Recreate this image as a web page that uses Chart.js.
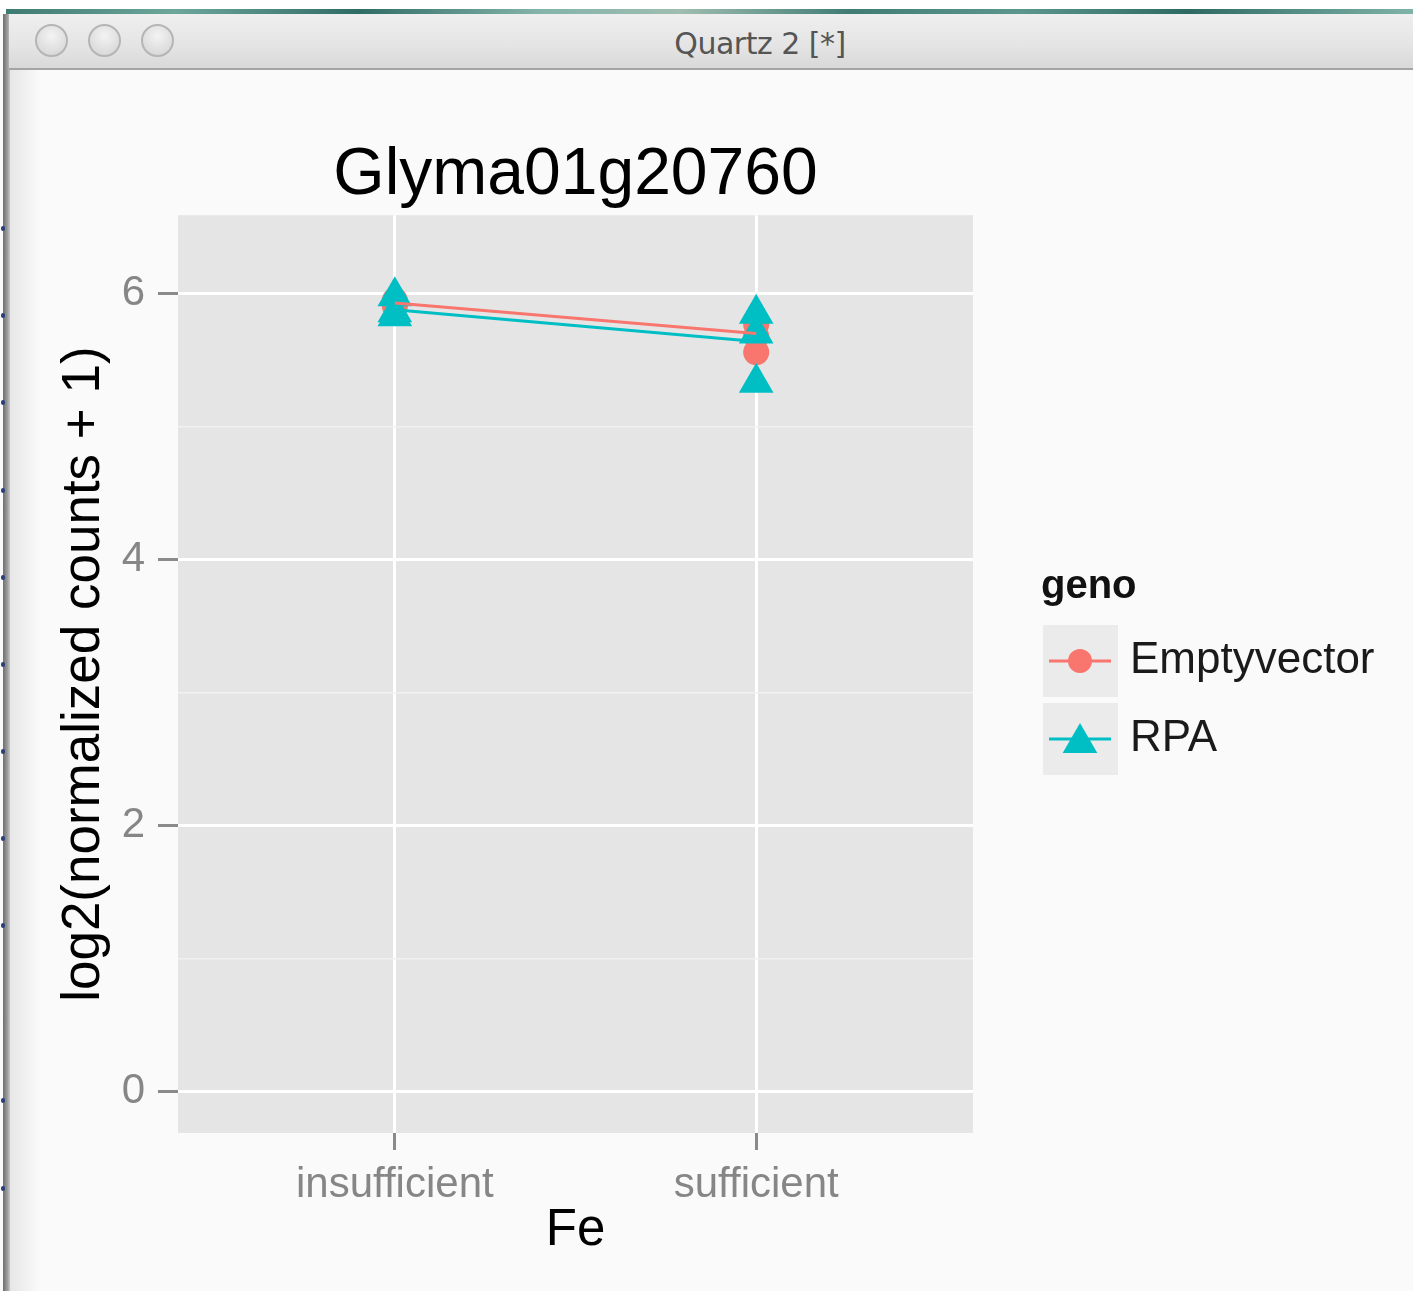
<!DOCTYPE html>
<html>
<head>
<meta charset="utf-8">
<title>Glyma01g20760</title>
<script src="https://cdn.jsdelivr.net/npm/chart.js@4.4.1/dist/chart.umd.min.js"></script>
<style>
  html, body { margin: 0; padding: 0; }
  body { width: 1413px; height: 1291px; overflow: hidden; background: #fafafa; position: relative;
         font-family: 'Liberation Sans', Arial, sans-serif; }
  #desk { position: absolute; left: 0; top: 0; width: 1413px; height: 14px; background: #ffffff; }
  #deskStrip { position: absolute; left: 6px; top: 9px; width: 1407px; height: 6px;
    background: linear-gradient(90deg, #3d7a70 0%, #6da79c 12%, #2f6c66 25%, #84b4aa 38%, #9fbdb0 48%, #3f7c74 60%, #5b978d 72%, #2d6a63 84%, #7fb3a8 100%); }
  #titlebar { position: absolute; left: 9px; top: 14px; width: 1404px; height: 54px;
    background: linear-gradient(#efefef, #e4e4e4 60%, #d9d9d9); border-bottom: 2px solid #a4a4a4; }
  #titlebar .btn { position: absolute; top: 10px; width: 33px; height: 33px; border-radius: 50%;
    border: 2px solid #b5b5b5; box-sizing: border-box;
    background: radial-gradient(circle at 50% 35%, #f3f3f3, #dcdcdc 70%, #cfcfcf); }
  #titlebar .caption { position: absolute; left: 0; right: 0; top: 12px; text-align: center;
    font-family: 'DejaVu Sans', sans-serif; font-size: 30px; color: #555555; letter-spacing: -0.5px;
    padding-left: 98px; }
  #frame { position: absolute; left: 3px; top: 14px; width: 7px; height: 1277px;
    background: linear-gradient(90deg, #6f6f6f, #9a9a9a 60%, #c8c8c8); }
  #frameShade { position: absolute; left: 10px; top: 70px; width: 30px; height: 1221px;
    background: linear-gradient(90deg, #e6e6e6, #fafafa); }
  .dot { position: absolute; left: 1px; width: 4px; height: 5px; border-radius: 2px; background: #2b3f7a; }
  #chart { position: absolute; left: 0; top: 0; }
</style>
</head>
<body>
<div id="desk"></div>
<div id="deskStrip"></div>
<div id="frame"></div>
<div id="frameShade"></div>
<div id="titlebar">
  <div class="btn" style="left:26px"></div>
  <div class="btn" style="left:79px"></div>
  <div class="btn" style="left:132px"></div>
  <div class="caption">Quartz 2 [*]</div>
</div>
<div id="dots"></div>
<canvas id="chart" width="1413" height="1291"></canvas>
<script>
// Fe treatment levels on the x axis
const categories = ['insufficient', 'sufficient'];

// log2(normalized counts + 1), one value per replicate
const emptyvectorInsufficient = [5.95, 5.92, 5.91];
const emptyvectorSufficient   = [5.77, 5.68, 5.56];
const rpaInsufficient         = [5.98, 5.86, 5.83];
const rpaSufficient           = [5.85, 5.70, 5.33];

// group means joined by the lines
const emptyvectorMeans = [5.93, 5.70];
const rpaMeans         = [5.88, 5.64];

// y axis ticks (labels on even values, lighter minor lines on odd ones)
const yTicks = [0, 1, 2, 3, 4, 5, 6];

const genoColors = { Emptyvector: '#F8766D', RPA: '#00BFC4' };

// small desktop marks along the left edge
const dotRows = [228, 315, 402, 490, 577, 664, 751, 838, 925, 1100, 1188];
const dotsEl = document.getElementById('dots');
dotRows.forEach(y => {
  const d = document.createElement('div');
  d.className = 'dot';
  d.style.top = (y - 2) + 'px';
  dotsEl.appendChild(d);
});

function pointsFor(values, catIndex) {
  return values.map(v => ({ x: catIndex + 1, y: v }));
}
function meansFor(means) {
  return means.map((v, i) => ({ x: i + 1, y: v }));
}

Chart.defaults.font.family = "'Liberation Sans', Arial, Helvetica, sans-serif";

// grey panel behind the grid
const panelBackground = {
  id: 'panelBackground',
  beforeDraw(chart) {
    const { ctx, chartArea: a } = chart;
    ctx.save();
    ctx.fillStyle = '#e5e5e5';
    ctx.fillRect(a.left, a.top, a.right - a.left, a.bottom - a.top);
    ctx.restore();
  }
};

// legend with grey key boxes, line + marker glyphs
const genoLegend = {
  id: 'genoLegend',
  afterDraw(chart) {
    const { ctx } = chart;
    const entries = chart.data.datasets.filter(d => d.legendEntry);
    ctx.save();
    ctx.textBaseline = 'middle';
    ctx.textAlign = 'left';
    ctx.fillStyle = '#111';
    ctx.font = "bold 40px 'Liberation Sans', Arial, sans-serif";
    ctx.fillText('geno', 1041, 587);
    entries.forEach((d, i) => {
      const top = 625 + i * 78;
      const cy = top + 36;
      const cx = 1080;
      ctx.fillStyle = '#ebebeb';
      ctx.fillRect(1043, top, 75, 72);
      ctx.strokeStyle = d.borderColor;
      ctx.lineWidth = 3;
      ctx.beginPath();
      ctx.moveTo(1049, cy);
      ctx.lineTo(1111, cy);
      ctx.stroke();
      ctx.fillStyle = d.backgroundColor;
      ctx.beginPath();
      if (d.pointStyle === 'triangle') {
        const r = 20;
        let rad = 0;
        ctx.moveTo(cx + Math.sin(rad) * r, cy + 4 - Math.cos(rad) * r);
        rad += 2 * Math.PI / 3;
        ctx.lineTo(cx + Math.sin(rad) * r, cy + 4 - Math.cos(rad) * r);
        rad += 2 * Math.PI / 3;
        ctx.lineTo(cx + Math.sin(rad) * r, cy + 4 - Math.cos(rad) * r);
        ctx.closePath();
      } else {
        ctx.arc(cx, cy, 12, 0, Math.PI * 2);
      }
      ctx.fill();
      ctx.fillStyle = '#1a1a1a';
      ctx.font = "44px 'Liberation Sans', Arial, sans-serif";
      ctx.fillText(d.label, 1130, cy);
    });
    ctx.restore();
  }
};

const isMinor = c => c.tick && Math.abs(c.tick.value % 2) === 1;

new Chart(document.getElementById('chart'), {
  type: 'scatter',
  data: {
    datasets: [
      {
        label: 'Emptyvector', legendEntry: true, order: 2,
        data: pointsFor(emptyvectorInsufficient, 0).concat(pointsFor(emptyvectorSufficient, 1)),
        pointStyle: 'circle', pointRadius: 13, borderWidth: 0,
        backgroundColor: genoColors.Emptyvector, borderColor: genoColors.Emptyvector
      },
      {
        label: 'RPA', legendEntry: true, order: 1,
        data: pointsFor(rpaInsufficient, 0).concat(pointsFor(rpaSufficient, 1)),
        pointStyle: 'triangle', pointRadius: 20, borderWidth: 0,
        backgroundColor: genoColors.RPA, borderColor: genoColors.RPA
      },
      {
        label: 'Emptyvector mean', type: 'line', order: 0,
        data: meansFor(emptyvectorMeans), showLine: true, pointRadius: 0,
        borderColor: genoColors.Emptyvector, borderWidth: 3, fill: false
      },
      {
        label: 'RPA mean', type: 'line', order: 0,
        data: meansFor(rpaMeans), showLine: true, pointRadius: 0,
        borderColor: genoColors.RPA, borderWidth: 3, fill: false
      }
    ]
  },
  options: {
    responsive: false,
    animation: false,
    events: [],
    layout: { padding: { left: 40, right: 440, top: 136, bottom: 18 } },
    plugins: {
      legend: { display: false },
      tooltip: { enabled: false },
      title: {
        display: true, text: 'Glyma01g20760', fullSize: false,
        color: '#000', font: { size: 66, weight: 'normal' }, padding: 0
      }
    },
    scales: {
      x: {
        type: 'linear', min: 0.4, max: 2.6,
        afterBuildTicks: s => { s.ticks = categories.map((c, i) => ({ value: i + 1 })); },
        afterFit: s => { s.height = 140; },
        ticks: {
          callback: v => categories[Math.round(v) - 1],
          font: { size: 42 }, color: '#868686', padding: 10,
          maxRotation: 0, autoSkip: false
        },
        grid: { color: '#ffffff', lineWidth: 3, tickLength: 17, tickColor: '#8a8a8a', tickWidth: 3 },
        border: { display: false },
        title: { display: true, text: 'Fe', color: '#000', font: { size: 51 }, padding: { top: 0, bottom: 11 } }
      },
      y: {
        type: 'linear', min: -0.31, max: 6.59,
        afterBuildTicks: s => { s.ticks = yTicks.map(v => ({ value: v })); },
        afterFit: s => { s.width = 138; },
        ticks: {
          callback: v => (v % 2 === 0 ? String(v) : ''),
          font: { size: 42 }, color: '#868686', padding: 13, autoSkip: false
        },
        grid: {
          color: c => (isMinor(c) ? '#f1f1f1' : '#ffffff'),
          lineWidth: c => (isMinor(c) ? 1.5 : 3),
          tickLength: 20,
          tickColor: c => (isMinor(c) ? 'rgba(0,0,0,0)' : '#8a8a8a'),
          tickWidth: 3
        },
        border: { display: false },
        title: { display: true, text: 'log2(normalized counts + 1)', color: '#000', font: { size: 53 }, padding: { top: 13, bottom: 0 } }
      }
    }
  },
  plugins: [panelBackground, genoLegend]
});
</script>
</body>
</html>
